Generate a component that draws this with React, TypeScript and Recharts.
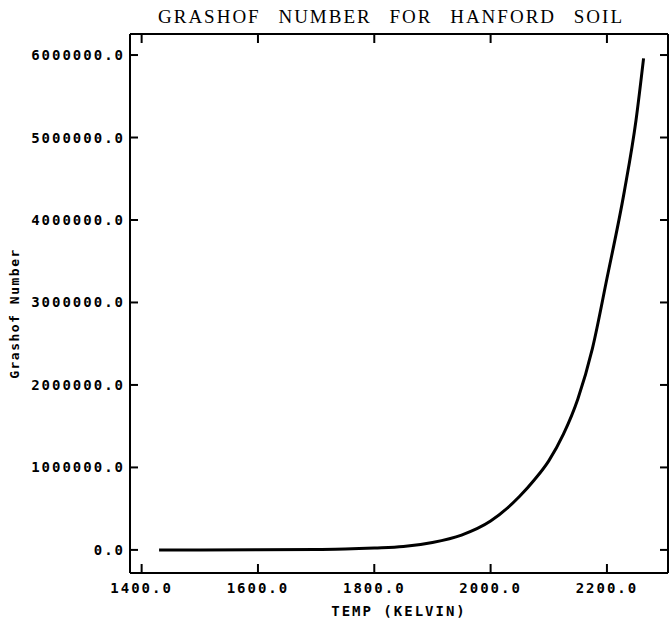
import React from 'react';
import { LineChart, Line, XAxis, YAxis, Label } from 'recharts';

// temperatures (K) and Grashof number
const temps = [1430, 1500, 1600, 1700, 1750, 1800, 1850, 1900, 1950, 2000, 2050, 2075, 2100, 2125, 2150, 2175, 2200, 2230, 2250, 2263];
const grashof = [0, 0, 1000, 5000, 10000, 22000, 40000, 90000, 180000, 350000, 650000, 847000, 1080000, 1400000, 1830000, 2440000, 3290000, 4350000, 5210000, 5960000];

const xTicks = [1400, 1600, 1800, 2000, 2200];
const yTicks = [0, 1000000, 2000000, 3000000, 4000000, 5000000, 6000000];

const data = temps.map((t, i) => ({ temp: t, gr: grashof[i] }));

const tickFont = {
  fontFamily: '"DejaVu Sans Mono", monospace',
  fontWeight: 700,
  fontSize: 14,
  letterSpacing: 2,
  fill: '#000',
};

const fmt = (v: number) => v.toFixed(1);

// ticks point into the plot, labels sit outside
const BottomTick = (props: any) => {
  const { x, y, payload } = props;
  return (
    <g>
      <line x1={x} x2={x} y1={y} y2={y - 9} stroke="#000" strokeWidth={2} />
      <text x={x} y={y + 20} textAnchor="middle" style={tickFont}>{fmt(payload.value)}</text>
    </g>
  );
};

const LeftTick = (props: any) => {
  const { x, y, payload } = props;
  return (
    <g>
      <line x1={x} x2={x + 8} y1={y} y2={y} stroke="#000" strokeWidth={2} />
      <text x={x - 5} y={y + 5} textAnchor="end" style={tickFont}>{fmt(payload.value)}</text>
    </g>
  );
};

const TopTick = (props: any) => {
  const { x, y } = props;
  return <line x1={x} x2={x} y1={y} y2={y + 9} stroke="#000" strokeWidth={2} />;
};

const RightTick = (props: any) => {
  const { x, y } = props;
  return <line x1={x - 8} x2={x} y1={y} y2={y} stroke="#000" strokeWidth={2} />;
};

export default function App() {
  return (
    <div style={{ position: 'absolute', left: 0, top: 0, width: 670, height: 626, background: '#fff' }}>
      <div
        style={{
          position: 'absolute',
          left: 91,
          width: 600,
          top: 6,
          textAlign: 'center',
          fontFamily: '"Liberation Serif", serif',
          fontSize: 19,
          letterSpacing: 2,
          wordSpacing: 11,
          color: '#000',
        }}
      >
        GRASHOF NUMBER FOR HANFORD SOIL
      </div>
      <LineChart width={670} height={626} data={data} margin={{ top: 30, right: 0, left: 0, bottom: 0 }}>
        <XAxis
          xAxisId="bottom"
          dataKey="temp"
          type="number"
          domain={[1380, 2305]}
          ticks={xTicks}
          allowDataOverflow
          height={53}
          tickSize={0}
          tickMargin={0}
          tick={<BottomTick />}
          tickLine={false}
          axisLine={{ stroke: '#000', strokeWidth: 2 }}
        >
          <Label
            value="TEMP (KELVIN)"
            position="insideBottom"
            offset={10}
            style={{ ...tickFont, fontSize: 14 }}
          />
        </XAxis>
        <XAxis
          xAxisId="top"
          orientation="top"
          dataKey="temp"
          type="number"
          domain={[1380, 2305]}
          ticks={xTicks}
          allowDataOverflow
          height={4}
          tickSize={0}
          tickMargin={0}
          tick={<TopTick />}
          tickLine={false}
          axisLine={{ stroke: '#000', strokeWidth: 2 }}
        />
        <YAxis
          yAxisId="left"
          type="number"
          domain={[-280000, 6255000]}
          ticks={yTicks}
          allowDataOverflow
          width={130}
          tickSize={0}
          tickMargin={0}
          tick={<LeftTick />}
          tickLine={false}
          axisLine={{ stroke: '#000', strokeWidth: 2 }}
        >
          <Label
            value="Grashof Number"
            angle={-90}
            position="insideLeft"
            offset={14}
            dy={10}
            style={{ ...tickFont, fontSize: 13, letterSpacing: 1.5, textAnchor: 'middle' }}
          />
        </YAxis>
        <YAxis
          yAxisId="right"
          orientation="right"
          type="number"
          domain={[-280000, 6255000]}
          ticks={yTicks}
          allowDataOverflow
          width={2}
          tickSize={0}
          tickMargin={0}
          tick={<RightTick />}
          tickLine={false}
          axisLine={{ stroke: '#000', strokeWidth: 2 }}
        />
        <Line
          xAxisId="bottom"
          yAxisId="left"
          type="monotone"
          dataKey="gr"
          stroke="#000"
          strokeWidth={3}
          dot={false}
          isAnimationActive={false}
        />
      </LineChart>
    </div>
  );
}
